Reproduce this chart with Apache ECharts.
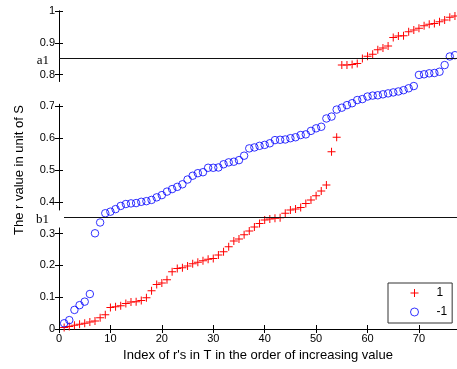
<!DOCTYPE html>
<html>
<head>
<meta charset="utf-8">
<script src="https://cdn.jsdelivr.net/npm/echarts/dist/echarts.min.js"></script>
<style>
html, body { margin: 0; padding: 0; background: #fff; }
#main { width: 457px; height: 369px; }
</style>
</head>
<body>
<div id="main"></div>
<script>
// r values of class "1", sorted, index 1..77
var posValues = [
  0.005, 0.008, 0.012, 0.015, 0.018, 0.022, 0.025, 0.035, 0.045, 0.068,
  0.070, 0.073, 0.080, 0.085, 0.086, 0.090, 0.098, 0.120, 0.140, 0.145,
  0.155, 0.180, 0.190, 0.193, 0.198, 0.205, 0.210, 0.215, 0.219, 0.222,
  0.233, 0.243, 0.259, 0.277, 0.283, 0.296, 0.308, 0.321, 0.332, 0.343,
  0.346, 0.348, 0.350, 0.364, 0.374, 0.377, 0.382, 0.395, 0.406, 0.419,
  0.434, 0.453, 0.557, 0.603, 0.830, 0.830, 0.832, 0.835, 0.851, 0.858,
  0.864, 0.878, 0.884, 0.890, 0.917, 0.921, 0.922, 0.935, 0.940, 0.946,
  0.954, 0.958, 0.961, 0.966, 0.972, 0.980, 0.984
];
// r values of class "-1", sorted, index 1..77
var negValues = [
  0.018, 0.028, 0.060, 0.075, 0.086, 0.110, 0.301, 0.335, 0.364, 0.369,
  0.377, 0.387, 0.393, 0.395, 0.396, 0.400, 0.402, 0.406, 0.414, 0.421,
  0.432, 0.440, 0.447, 0.455, 0.470, 0.482, 0.490, 0.493, 0.507, 0.507,
  0.508, 0.518, 0.524, 0.526, 0.531, 0.545, 0.568, 0.571, 0.576, 0.579,
  0.584, 0.594, 0.595, 0.596, 0.600, 0.603, 0.610, 0.612, 0.623, 0.631,
  0.636, 0.662, 0.668, 0.690, 0.696, 0.704, 0.710, 0.720, 0.723, 0.731,
  0.734, 0.735, 0.738, 0.741, 0.744, 0.747, 0.751, 0.757, 0.764, 0.799,
  0.801, 0.804, 0.805, 0.809, 0.830, 0.857, 0.861
];
var seriesNames = ['1', '-1'];
var thresholdNames = ['a1', 'b1'];
var thresholdValues = [0.85, 0.35];
var xTickStep = 10;
var yTickStep = 0.1;

var FONT = 'Liberation Sans, Arial, sans-serif';
var plus = 'path://M3.5,0 L4.5,0 L4.5,3.5 L8,3.5 L8,4.5 L4.5,4.5 L4.5,8 L3.5,8 L3.5,4.5 L0,4.5 L0,3.5 L3.5,3.5 Z';
var ringStyle = { color: 'rgba(255,255,255,0)', borderColor: '#0000ff', borderWidth: 1 };

function toPoints(arr) {
  return arr.map(function (v, i) { return [i + 1, v]; });
}

var dom = document.getElementById('main');
var myChart = echarts.init(dom, null, { renderer: 'canvas' });

var axisCommon = {
  type: 'value',
  axisLine: { show: true, lineStyle: { color: '#000', width: 1 } },
  axisTick: { show: true, inside: true, length: 4, lineStyle: { color: '#000' } },
  splitLine: { show: false },
  minorTick: { show: false }
};

var option = {
  backgroundColor: '#fff',
  animation: false,
  grid: { left: 59, top: 11, width: 398, height: 318, containLabel: false },
  legend: {
    orient: 'vertical',
    left: 388,
    top: 283,
    data: [
      { name: seriesNames[0], icon: plus },
      { name: seriesNames[1], icon: 'circle', itemStyle: ringStyle }
    ],
    itemWidth: 8,
    itemHeight: 8,
    itemGap: 5,
    padding: [3, 5, 4, 22],
    backgroundColor: '#fff',
    borderColor: '#333',
    borderWidth: 1,
    borderRadius: 0,
    selectedMode: false,
    textStyle: { fontFamily: FONT, fontSize: 12, color: '#000', lineHeight: 14, padding: [0, 0, 0, 13] }
  },
  xAxis: [
    echarts.util.merge({
      position: 'bottom',
      min: 0, max: 77.4, interval: xTickStep,
      name: "Index of r's in T in the order of increasing value",
      nameLocation: 'middle',
      nameGap: 19,
      nameTextStyle: { fontFamily: FONT, fontSize: 13, color: '#000' },
      axisLabel: { fontFamily: FONT, fontSize: 11, color: '#000', margin: 4, showMaxLabel: false }
    }, axisCommon, true),
    echarts.util.merge({
      position: 'top',
      min: 0, max: 77.4, interval: xTickStep,
      axisLabel: { show: false }
    }, axisCommon, true)
  ],
  yAxis: [
    echarts.util.merge({
      position: 'left',
      min: 0, max: 1, interval: yTickStep,
      name: 'The r value in unit of S',
      nameLocation: 'middle',
      nameGap: 33,
      nameTextStyle: { fontFamily: FONT, fontSize: 13, color: '#000' },
      axisLabel: {
        fontFamily: FONT, fontSize: 11, color: '#000', margin: 4,
        formatter: function (v) { return String(Math.round(v * 10) / 10); }
      }
    }, axisCommon, true),
    echarts.util.merge({
      position: 'right',
      min: 0, max: 1, interval: yTickStep,
      axisLabel: { show: false }
    }, axisCommon, true)
  ],
  series: [
    {
      name: seriesNames[0],
      type: 'scatter',
      symbol: plus,
      symbolSize: 8,
      itemStyle: { color: '#ff0000', opacity: 1 },
      data: toPoints(posValues),
      markLine: {
        silent: true,
        symbol: ['none', 'none'],
        label: { show: false },
        lineStyle: { color: '#111', width: 1, type: 'solid' },
        data: thresholdValues.map(function (v) { return { yAxis: v }; })
      }
    },
    {
      name: seriesNames[1],
      type: 'scatter',
      symbol: 'circle',
      symbolSize: 7.5,
      itemStyle: ringStyle,
      data: toPoints(negValues)
    }
  ]
};

if (option && typeof option === 'object') {
  myChart.setOption(option, true);
}

// white boxes behind the a1/b1 texts break the left axis line, as in the original
var x0 = myChart.convertToPixel({ xAxisIndex: 0 }, 0);
function py(v) { return myChart.convertToPixel({ yAxisIndex: 0 }, v); }
var graphics = [
  { type: 'rect', z: 100, shape: { x: x0 - 5, y: py(0.777), width: 9, height: py(0.708) - py(0.777) }, style: { fill: '#fff' } },
  { type: 'rect', z: 100, shape: { x: 33, y: py(0.373), width: x0 + 5 - 33, height: py(0.319) - py(0.373) }, style: { fill: '#fff' } }
];
thresholdNames.forEach(function (name, i) {
  graphics.push({
    type: 'text', z: 101,
    x: x0 - 10, y: py(thresholdValues[i]) + 2,
    style: { text: name, fill: '#000', font: '13px "Liberation Serif", "Times New Roman", serif', align: 'right', verticalAlign: 'middle' }
  });
});
myChart.setOption({ graphic: graphics });
</script>
</body>
</html>
